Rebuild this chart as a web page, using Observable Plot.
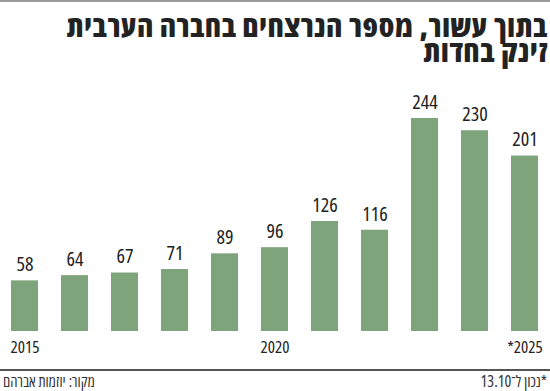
<!DOCTYPE html>
<html><head><meta charset="utf-8">
<script src="https://cdn.jsdelivr.net/npm/d3@7"></script>
<script src="https://cdn.jsdelivr.net/npm/@observablehq/plot@0.6"></script>
<style>
body{margin:0;width:550px;height:391px;position:relative;background:#fff;overflow:hidden;font-family:"Open Sans",sans-serif;font-stretch:75%}
#topline{position:absolute;left:0;top:0;width:550px;height:2px;background:#9a9a9a}
.title{position:absolute;right:2px;direction:rtl;text-align:right;font-family:"Open Sans",sans-serif;font-stretch:87.5%;font-weight:800;font-size:30px;letter-spacing:0.8px;line-height:24px;color:#222;white-space:nowrap}
#t1{top:14px}
#t2{top:39px}
#chart{position:absolute;left:0;top:70px}
#rule{position:absolute;left:0;top:369px;width:550px;height:2px;background:#555}
.foot{position:absolute;top:373px;direction:rtl;font-size:16px;line-height:16px;color:#333;white-space:nowrap}
#src{left:3px;font-size:15.5px}
#note{right:3px}
</style></head>
<body>
<div id="topline"></div>
<div class="title" id="t1">בתוך עשור, מספר הנרצחים בחברה הערבית</div>
<div class="title" id="t2">זינק בחדות</div>
<div id="chart"></div>
<div id="rule"></div>
<div class="foot" id="src">מקור: יוזמות אברהם</div>
<div class="foot" id="note">*נכון ל־13.10</div>
<script>
const years = [2015,2016,2017,2018,2019,2020,2021,2022,2023,2024,2025];
const victims = [58,64,67,71,89,96,126,116,244,230,201];
const tickYears = [2015,2020,2025];
const tickLabels = ["2015","2020","*2025"];
const data = years.map((y,i)=>({year:y, value:victims[i]}));
const plot = Plot.plot({
  width:550, height:290,
  marginLeft:8, marginRight:9, marginTop:48, marginBottom:29,
  style:{fontFamily:'"Open Sans",sans-serif', fontStretch:"75%", background:"transparent"},
  x:{type:"band", domain:years, paddingInner:0.47, paddingOuter:0, axis:null},
  y:{domain:[0,244], axis:null},
  marks:[
    Plot.barY(data,{x:"year", y:"value", fill:"#7ea47b"}),
    Plot.text(data,{x:"year", y:"value", text:d=>String(d.value), dy:-16, fontSize:20, fill:"#222"}),
    Plot.axisX({ticks:tickYears, tickFormat:d=>tickLabels[tickYears.indexOf(d)], tickSize:0, tickPadding:9, fontSize:17, fill:"#222", label:null})
  ]
});
document.getElementById("chart").appendChild(plot);
</script>
</body></html>
